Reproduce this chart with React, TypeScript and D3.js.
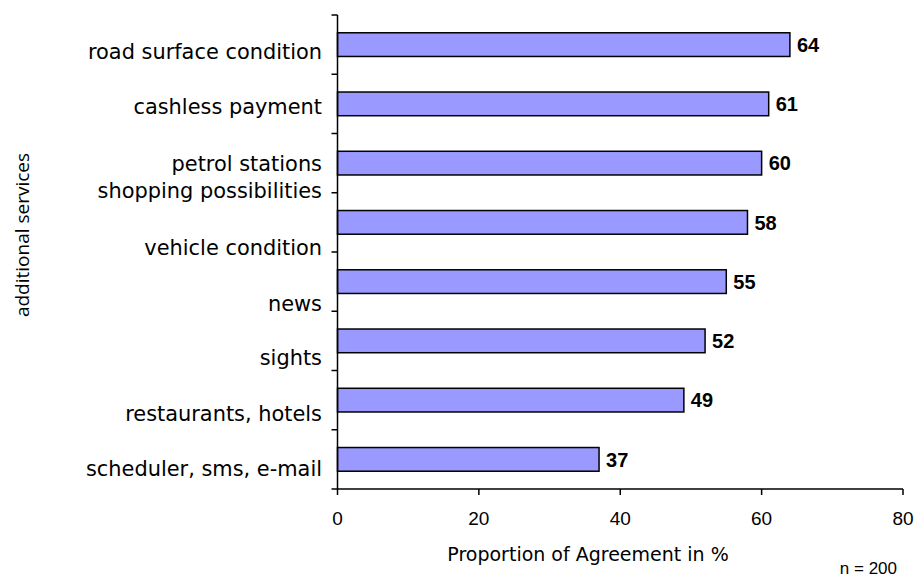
import React, { useEffect, useRef } from 'react'
import * as d3 from 'd3'

// bar values, top to bottom
const barValues = [64, 61, 60, 58, 55, 52, 49, 37]
// category labels on the y axis (as they stand in the original, 9 of them)
const categoryLabels = [
  'road surface condition',
  'cashless payment',
  'petrol stations',
  'shopping possibilities',
  'vehicle condition',
  'news',
  'sights',
  'restaurants, hotels',
  'scheduler, sms, e-mail',
]
// where each label sits, in band units from the top of the axis
const labelSlots = [0.64, 1.57, 2.53, 3.0, 3.96, 4.9, 5.81, 6.75, 7.68]
const xTicks = [0, 20, 40, 60, 80]

const W = 917
const H = 578

const App = () => {
  const svgRef = useRef<SVGSVGElement>(null)

  useEffect(() => {
    const svg = d3.select(svgRef.current)
    svg.selectAll('*').remove()

    const left = 337.5
    const right = 903
    const top = 15
    const bottom = 489

    const x = d3.scaleLinear([0, 80], [left, right])
    const y = d3.scaleBand<number>()
      .domain(d3.range(barValues.length))
      .range([top, bottom])
      .paddingInner(0.6)
      .paddingOuter(0.3)
    const slot = d3.scaleLinear([0, barValues.length], [top, bottom])

    // bars
    svg.append('g')
      .selectAll('rect')
      .data(barValues)
      .join('rect')
      .attr('x', x(0))
      .attr('y', (_d, i) => y(i)!)
      .attr('width', d => x(d) - x(0))
      .attr('height', y.bandwidth())
      .attr('fill', '#9999ff')
      .attr('stroke', '#000')
      .attr('stroke-width', 1.5)

    // value labels
    svg.append('g')
      .selectAll('text')
      .data(barValues)
      .join('text')
      .attr('x', d => x(d) + 7)
      .attr('y', (_d, i) => y(i)! + y.bandwidth() / 2)
      .attr('dy', '0.36em')
      .attr('font-family', 'Liberation Sans, Arial, sans-serif')
      .attr('font-weight', 'bold')
      .attr('font-size', 20)
      .text(d => d)

    // y axis
    const ya = svg.append('g').attr('stroke', '#000').attr('stroke-width', 1.5)
    ya.append('line').attr('x1', left).attr('x2', left).attr('y1', top).attr('y2', bottom)
    ya.selectAll('line.tick')
      .data(d3.range(barValues.length + 1))
      .join('line')
      .attr('class', 'tick')
      .attr('x1', left - 6).attr('x2', left)
      .attr('y1', d => slot(d)).attr('y2', d => slot(d))

    svg.append('g')
      .selectAll('text')
      .data(categoryLabels)
      .join('text')
      .attr('x', 322)
      .attr('y', (_d, i) => slot(labelSlots[i]))
      .attr('dy', '0.27em')
      .attr('text-anchor', 'end')
      .attr('font-family', 'DejaVu Sans, sans-serif')
      .attr('font-size', 20.9)
      .attr('fill', '#000')
      .text(d => d)

    // x axis
    const xa = svg.append('g').attr('stroke', '#000').attr('stroke-width', 1.5)
    xa.append('line').attr('x1', left).attr('x2', right).attr('y1', bottom).attr('y2', bottom)
    xa.selectAll('line.tick')
      .data(xTicks)
      .join('line')
      .attr('class', 'tick')
      .attr('x1', d => x(d)).attr('x2', d => x(d))
      .attr('y1', bottom).attr('y2', bottom + 6)

    svg.append('g')
      .selectAll('text')
      .data(xTicks)
      .join('text')
      .attr('x', d => x(d))
      .attr('y', bottom + 36)
      .attr('text-anchor', 'middle')
      .attr('font-family', 'Liberation Sans, Arial, sans-serif')
      .attr('font-size', 19)
      .attr('fill', '#000')
      .text(d => d)

    // titles
    svg.append('text')
      .attr('x', 588)
      .attr('y', 561)
      .attr('text-anchor', 'middle')
      .attr('font-family', 'DejaVu Sans, sans-serif')
      .attr('font-size', 19)
      .attr('fill', '#000')
      .text('Proportion of Agreement in %')

    svg.append('text')
      .attr('transform', 'translate(29,235) rotate(-90)')
      .attr('text-anchor', 'middle')
      .attr('font-family', 'Open Sans, sans-serif')
      .attr('font-size', 19)
      .attr('fill', '#000')
      .text('additional services')

    svg.append('text')
      .attr('x', 897)
      .attr('y', 574)
      .attr('text-anchor', 'end')
      .attr('font-family', 'Liberation Sans, Arial, sans-serif')
      .attr('font-size', 17)
      .attr('fill', '#000')
      .text('n = 200')
  }, [])

  return (
    <svg
      ref={svgRef}
      width={W}
      height={H}
      style={{ position: 'absolute', left: 0, top: 0, background: '#fff' }}
    />
  )
}

export default App
